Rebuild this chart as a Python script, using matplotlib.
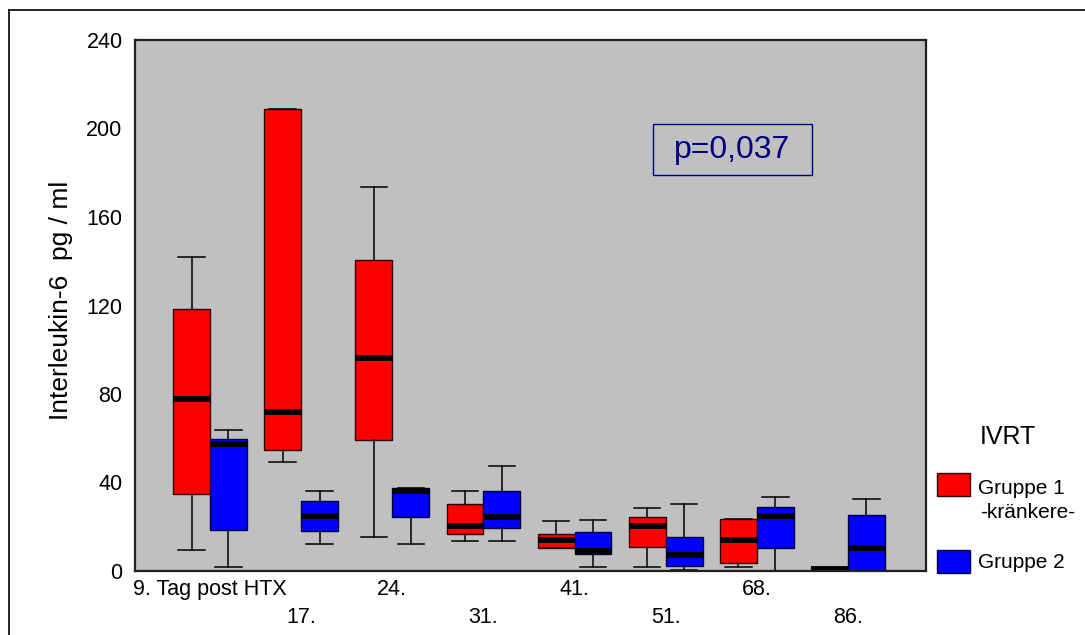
import matplotlib
matplotlib.use("Agg")
import matplotlib.pyplot as plt
from matplotlib.patches import Rectangle
from matplotlib.lines import Line2D

plt.rcParams['font.family'] = ['Liberation Sans', 'DejaVu Sans']

# ---- data ----
days = ["9. Tag post HTX", "17.", "24.", "31.", "41.", "51.", "68.", "86."]

# Gruppe 1 (red): whisker low, Q1, median, Q3, whisker high
g1_low = [9.5, 49.4, 15.5, 13.6, 10.3, 1.8, 1.8, 0.0]
g1_q1 = [34.8, 54.5, 59.1, 16.7, 10.3, 11.0, 3.6, 0.0]
g1_med = [77.8, 71.9, 96.3, 20.3, 13.9, 20.3, 13.9, 0.8]
g1_q3 = [118.4, 208.8, 140.6, 30.4, 16.7, 24.5, 23.4, 1.2]
g1_high = [142.0, 208.8, 173.6, 36.3, 22.6, 28.6, 23.4, 1.5]

# Gruppe 2 (blue)
g2_low = [1.8, 12.3, 12.3, 13.6, 1.8, 0.3, 0.0, 0.0]
g2_q1 = [18.7, 18.1, 24.5, 19.4, 7.8, 2.4, 10.3, 0.0]
g2_med = [57.5, 24.9, 36.3, 24.4, 9.2, 7.4, 24.9, 10.5]
g2_q3 = [59.7, 31.8, 37.5, 36.3, 17.5, 15.5, 29.1, 25.3]
g2_high = [63.6, 36.3, 37.5, 47.5, 23.2, 30.4, 33.6, 32.4]

y_ticks = [0, 40, 80, 120, 160, 200, 240]
legend_title = "IVRT"
legend_labels = ["Gruppe 1", "-kränkere-", "Gruppe 2"]
p_text = "p=0,037"
y_label = "Interleukin-6  pg / ml"

# ---- figure ----
fig = plt.figure(figsize=(10.85, 6.35), dpi=100)
ax = fig.add_axes([135/1085, 1-571/635, (926-135)/1085, (571-40)/635])
ax.set_facecolor('#C0C0C0')

w = 0.405

def stats(lo, q1, med, q3, hi):
    return [dict(whislo=a, q1=b, med=c, q3=d, whishi=e, fliers=[])
            for a, b, c, d, e in zip(lo, q1, med, q3, hi)]

pos1 = [i - w/2 for i in range(len(days))]
pos2 = [i + w/2 for i in range(len(days))]

common = dict(widths=w, patch_artist=True, showfliers=False,
              whiskerprops=dict(color='black', linewidth=1.1),
              capprops=dict(color='black', linewidth=1.1),
              medianprops=dict(color='black', linewidth=4.2, solid_capstyle='butt'),
              capwidths=0.29)

ax.bxp(stats(g1_low, g1_q1, g1_med, g1_q3, g1_high), positions=pos1,
       boxprops=dict(facecolor='#FF0000', edgecolor='#300000', linewidth=1.0),
       **common)
ax.bxp(stats(g2_low, g2_q1, g2_med, g2_q3, g2_high), positions=pos2,
       boxprops=dict(facecolor='#0000FF', edgecolor='#000040', linewidth=1.0),
       **common)

ax.set_xlim(-0.823, 7.856)
ax.set_ylim(0, 240)
ax.set_yticks(y_ticks)
ax.set_yticklabels([str(t) for t in y_ticks])
ax.tick_params(axis='y', length=0, pad=9, labelsize=15.5)

even = list(range(0, len(days), 2))
odd = list(range(1, len(days), 2))
ax.set_xticks(even)
ax.set_xticklabels([days[i] for i in even])
ax.set_xticks(odd, minor=True)
ax.set_xticklabels([days[i] for i in odd], minor=True)
ax.tick_params(axis='x', which='major', length=0, pad=6, labelsize=15.5)
ax.tick_params(axis='x', which='minor', length=0, pad=26, labelsize=15.5)

for s in ax.spines.values():
    s.set_color('#202020')
    s.set_linewidth(1.6)

fig.text(61/1085, 1-300/635, y_label, rotation=90, ha='center', va='center',
         fontsize=19)

# p-value box
fig.text(732/1085, 1-150/635, p_text, ha='center', va='center', fontsize=23,
         color='#000080')
fig.patches.append(Rectangle((653/1085, 1-175/635), (812-653)/1085, (175-124)/635,
                             transform=fig.transFigure, fill=False,
                             edgecolor='#000080', linewidth=1.0))

# legend
fig.text(1008/1085, 1-437/635, legend_title, ha='center', va='center', fontsize=18)
fig.patches.append(Rectangle((937/1085, 1-496/635), 33/1085, 23/635,
                             transform=fig.transFigure, facecolor='#FF0000',
                             edgecolor='#300000', linewidth=1.0))
fig.patches.append(Rectangle((937/1085, 1-573/635), 33/1085, 23/635,
                             transform=fig.transFigure, facecolor='#0000FF',
                             edgecolor='#000040', linewidth=1.0))
fig.text(978/1085, 1-488/635, legend_labels[0], ha='left', va='center', fontsize=15)
fig.text(980/1085, 1-512/635, legend_labels[1], ha='left', va='center', fontsize=15)
fig.text(978/1085, 1-562/635, legend_labels[2], ha='left', va='center', fontsize=15)

# outer frame (top and left lines visible)
fig.add_artist(Line2D([8.5/1085, 1.0], [1-9.5/635, 1-9.5/635], transform=fig.transFigure,
                      color='black', linewidth=1.2))
fig.add_artist(Line2D([8.5/1085, 8.5/1085], [0, 1-9.5/635], transform=fig.transFigure,
                      color='black', linewidth=1.2))

fig.savefig('out.png', dpi=100)
